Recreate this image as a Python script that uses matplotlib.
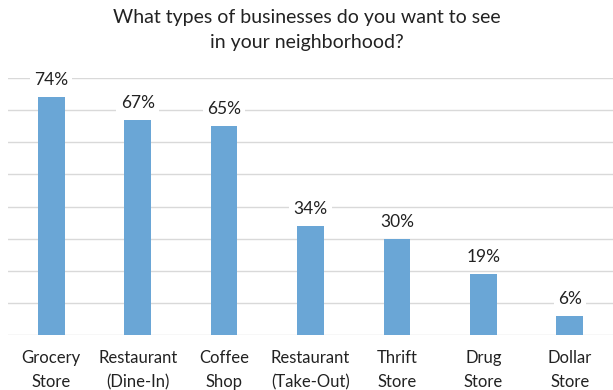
import matplotlib.pyplot as plt
import numpy as np

categories = ["Grocery\nStore", "Restaurant\n(Dine-In)", "Coffee\nShop", "Restaurant\n(Take-Out)",
              "Thrift\nStore", "Drug\nStore", "Dollar\nStore"]
values = [74, 67, 65, 34, 30, 19, 6]

plt.rcParams['font.family'] = ['Lato', 'DejaVu Sans']

fig = plt.figure(figsize=(6.13, 3.9), dpi=100)
ax = fig.add_axes([8 / 613, 1 - 335 / 390, 1 - 8 / 613, (335 - 78) / 390])

x = np.arange(len(values))
ax.bar(x, values, width=0.31, color='#6aa6d6', zorder=2)

for xi, v in zip(x, values):
    ax.text(xi, v + 2.8, f"{v}%", ha='center', va='bottom', fontsize=12.5, color='#222222',
            bbox=dict(facecolor='white', edgecolor='none', pad=3), zorder=3)

ax.set_xlim(-0.5, len(values) - 0.5)
ax.set_ylim(0, 80)
ax.set_yticks(np.arange(0, 81, 10))
ax.yaxis.grid(True, color='#d9d9d9', linewidth=1, zorder=0)
ax.tick_params(axis='y', left=False, labelleft=False)
ax.tick_params(axis='x', length=0, pad=11, labelsize=12, colors='#222222')
ax.set_xticks(x)
ax.set_xticklabels(categories, linespacing=1.6)
for s in ax.spines.values():
    s.set_visible(False)

fig.text(0.5, 0.978, "What types of businesses do you want to see\nin your neighborhood?",
         ha='center', va='top', fontsize=14, color='#222222', linespacing=1.6)

fig.savefig('out.png', dpi=100)
